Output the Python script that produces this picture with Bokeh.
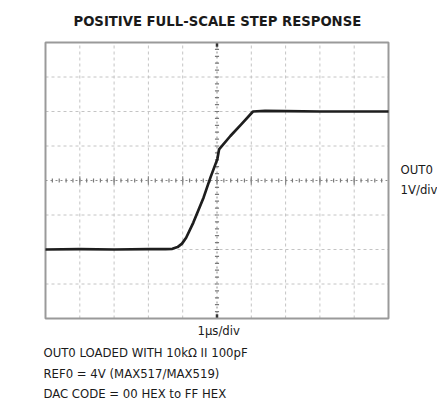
import numpy as np
from bokeh.plotting import figure
from bokeh.models import Range1d, Label
from bokeh.embed import file_html
from bokeh.resources import INLINE

# Trace (x in µs = divisions, y in divisions of 1V)
time_us = [0, 1, 2, 3, 3.5, 3.7, 3.85, 3.98, 4.1, 4.31, 4.61, 4.81, 5.01, 5.06, 5.39, 5.7, 6.05, 6.4, 7, 8, 9, 10]
out_div = [2.0, 2.01, 2.0, 2.01, 2.01, 2.02, 2.07, 2.17, 2.34, 2.78, 3.51, 4.09, 4.62, 4.9, 5.29, 5.62, 6.0, 6.02, 6.01, 6.0, 6.0, 6.0]

x_divs = list(range(0, 11))
y_divs = list(range(0, 9))

title_text = "POSITIVE FULL-SCALE STEP RESPONSE"
right_labels = ["OUT0", "1V/div"]
x_label = "1\u00b5s/div"
notes = ["OUT0 LOADED WITH 10k\u03a9 II 100pF",
         "REF0 = 4V (MAX517/MAX519)",
         "DAC CODE = 00 HEX to FF HEX"]

FONT = "DejaVu Sans Condensed"

# canvas: 437 x 401; screen frame 45..388 (x), 42..318 (y)
W, H = 437, 401
L, R, T, B = 45, 388, 42, 318
sx = (R - L) / 10.0
sy = (B - T) / 8.0

p = figure(width=W, height=H, output_backend="svg", toolbar_location=None,
           x_axis_type=None, y_axis_type=None,
           x_range=Range1d(-L / sx, (W - L) / sx), y_range=Range1d(-(H - B) / sy, B / sy),
           min_border=0, frame_width=W, frame_height=H)
p.outline_line_color = None
p.grid.visible = False
p.background_fill_color = "white"
p.border_fill_color = "white"

# graticule (dashed), without the centre lines
gx = [t for t in x_divs[1:-1] if t != 5]
gy = [t for t in y_divs[1:-1] if t != 4]
p.segment(x0=gx, x1=gx, y0=0, y1=8, line_color="#c4c4c4", line_dash="3 3", line_width=1)
p.segment(x0=0, x1=10, y0=gy, y1=gy, line_color="#c4c4c4", line_dash="3 3", line_width=1)
# centre lines
p.segment(x0=[5], x1=[5], y0=[0], y1=[8], line_color="#8a8a8a", line_dash="2 3", line_width=1)
p.segment(x0=[0], x1=[10], y0=[4], y1=[4], line_color="#8a8a8a", line_dash="2 3", line_width=1)

# minor tick marks on centre lines
minor_y = np.arange(0.2, 8.0, 0.2)
p.segment(x0=5 - 0.06, x1=5 + 0.06, y0=minor_y, y1=minor_y, line_color="#7a7a7a", line_width=1.2)
minor_x = np.arange(0.2, 10.0, 0.2)
p.segment(x0=minor_x, x1=minor_x, y0=4 - 0.06, y1=4 + 0.06, line_color="#7a7a7a", line_width=1.2)
major_x = np.array(x_divs[1:-1])
p.segment(x0=major_x, x1=major_x, y0=4 - 0.12, y1=4 + 0.12, line_color="#8a8a8a", line_width=1.2)
# centre marks at top / bottom edges
p.segment(x0=[5, 5], x1=[5, 5], y0=[7.88, 0], y1=[8, 0.12], line_color="#333333", line_width=2.5)

# scope frame
p.quad(left=[0], right=[10], bottom=[0], top=[8], fill_color=None,
       line_color="#9a9a9a", line_width=2)

# trace
p.line(time_us, out_div, line_color="#1e1e1e", line_width=2.7, line_join="round")

def add_label(x, y, text, size, bold=False, align="left"):
    p.add_layout(Label(x=x, y=y, text=text, text_font=FONT, text_font_size=size,
                       text_font_style="bold" if bold else "normal",
                       text_align=align, text_baseline="middle", text_color="#1a1a1a"))

add_label(5.01, 8.65, title_text, "14.7px", bold=True, align="center")
add_label(10.35, 4.32, right_labels[0], "13px")
add_label(10.35, 3.74, right_labels[1], "13px")
add_label(5.05, -0.35, x_label, "13px", align="center")
for i, t in enumerate(notes):
    add_label(-0.06, -0.99 - 0.59 * i, t, "13px")

open("out.html", "w").write(file_html(p, INLINE))
